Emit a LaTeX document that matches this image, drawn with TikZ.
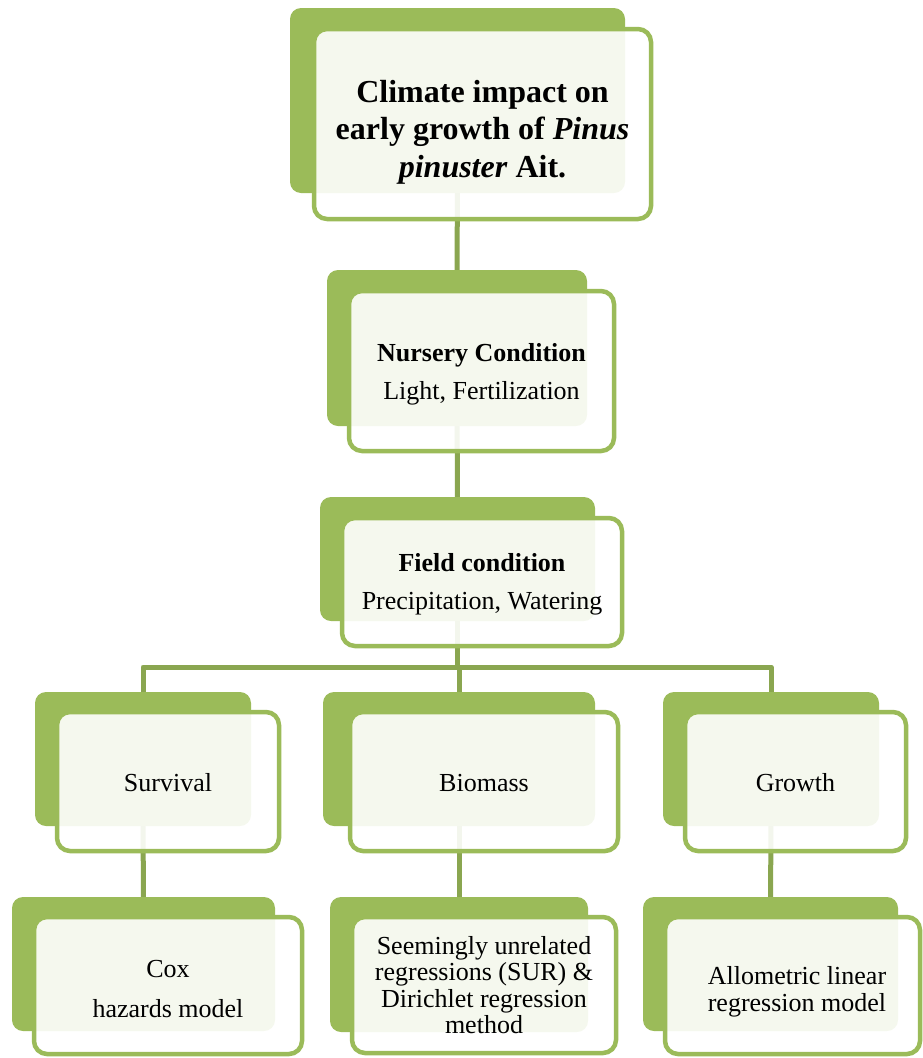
\documentclass[tikz,border=0pt]{standalone}
\usepackage{fontspec}
\setmainfont{Liberation Serif}
\usetikzlibrary{fit}
\definecolor{boxgreen}{HTML}{9BBB59}
\definecolor{linegreen}{RGB}{138,166,80}
\pgfdeclarelayer{bg}
\pgfsetlayers{bg,main}
\begin{document}
\begin{tikzpicture}[x=1pt,y=-1pt,
  backbox/.style={fill=boxgreen, rounded corners=11pt, inner sep=0pt, outer sep=0pt},
  frontbox/.style={draw=boxgreen, line width=4.5pt, fill=white, fill opacity=0.9, draw opacity=1, text opacity=1, rounded corners=13pt, inner sep=0pt, outer sep=0pt},
  conn/.style={draw=linegreen, line width=5pt, line join=round},
  lbl/.style={align=center, text=black, inner sep=0pt, font=\fontsize{26}{38}\selectfont}
]
\useasboundingbox (0,0) rectangle (923,1058);

% back boxes
\node[backbox, fit={(290,8) (625,193)}] (topb) {};
\node[backbox, fit={(327,270) (587,426)}] (nursb) {};
\node[backbox, fit={(320,497) (595,621)}] (fieldb) {};
\node[backbox, fit={(35,692) (251,826)}] (survb) {};
\node[backbox, fit={(323,692) (595,826)}] (biob) {};
\node[backbox, fit={(663,692) (879,826)}] (growb) {};
\node[backbox, fit={(12,897) (275,1031)}] (coxb) {};
\node[backbox, fit={(330,897) (588,1032)}] (surb) {};
\node[backbox, fit={(643,897) (898,1031)}] (allob) {};

% front boxes
\node[frontbox, fit={(314,29) (651,219)}] (top) {};
\node[frontbox, fit={(349,291) (614,451)}] (nurs) {};
\node[frontbox, fit={(342,518) (622,646)}] (field) {};
\node[frontbox, fit={(57,712) (279,851)}] (surv) {};
\node[frontbox, fit={(350,712) (618,851)}] (bio) {};
\node[frontbox, fit={(685,712) (906,851)}] (grow) {};
\node[frontbox, fit={(34,917) (302,1054)}] (cox) {};
\node[frontbox, fit={(352,917) (616,1053)}] (sur) {};
\node[frontbox, fit={(665,917) (920,1054)}] (allo) {};

% labels
\node[lbl, font=\fontsize{32}{37.5}\selectfont\bfseries] (toplbl) at (482.5,132) {Climate impact on\\early growth of \textit{Pinus}\\\textit{pinuster} Ait.};
\node[lbl] (nurslbl) at (481.5,374) {\textbf{Nursery Condition}\\Light, Fertilization};
\node[lbl] (fieldlbl) at (482,584) {\textbf{Field condition}\\Precipitation, Watering};
\node[lbl] (survlbl) at (168,783) {Survival};
\node[lbl] (biolbl) at (484,783) {Biomass};
\node[lbl] (growlbl) at (795.5,783) {Growth};
\node[lbl, font=\fontsize{26}{40}\selectfont] (coxlbl) at (168,989) {Cox\\hazards model};
\node[lbl, font=\fontsize{26}{26.3}\selectfont] (surlbl) at (484,985) {Seemingly unrelated\\regressions (SUR) \&\\Dirichlet regression\\method};
\node[lbl, font=\fontsize{26}{27}\selectfont] (allolbl) at (797,992) {Allometric linear\\regression model};

% connectors
\coordinate (j) at (457.5,667);
\begin{pgfonlayer}{bg}
\draw[conn] (topb.center) -- (nursb.center);
\draw[conn] (nursb.center) -- (fieldb.center);
\draw[conn] (fieldb.center) -- (fieldb.center |- j);
\draw[conn] (biob.center |- j) -- (biob.center);
\draw[conn] (survb.center) -- (survb.center |- j) -- (growb.center |- j) -- (growb.center);
\draw[conn] (survb.center) -- (coxb.center);
\draw[conn] (biob.center) -- (surb.center);
\draw[conn] (growb.center) -- (allob.center);
\end{pgfonlayer}
\end{tikzpicture}
\end{document}
